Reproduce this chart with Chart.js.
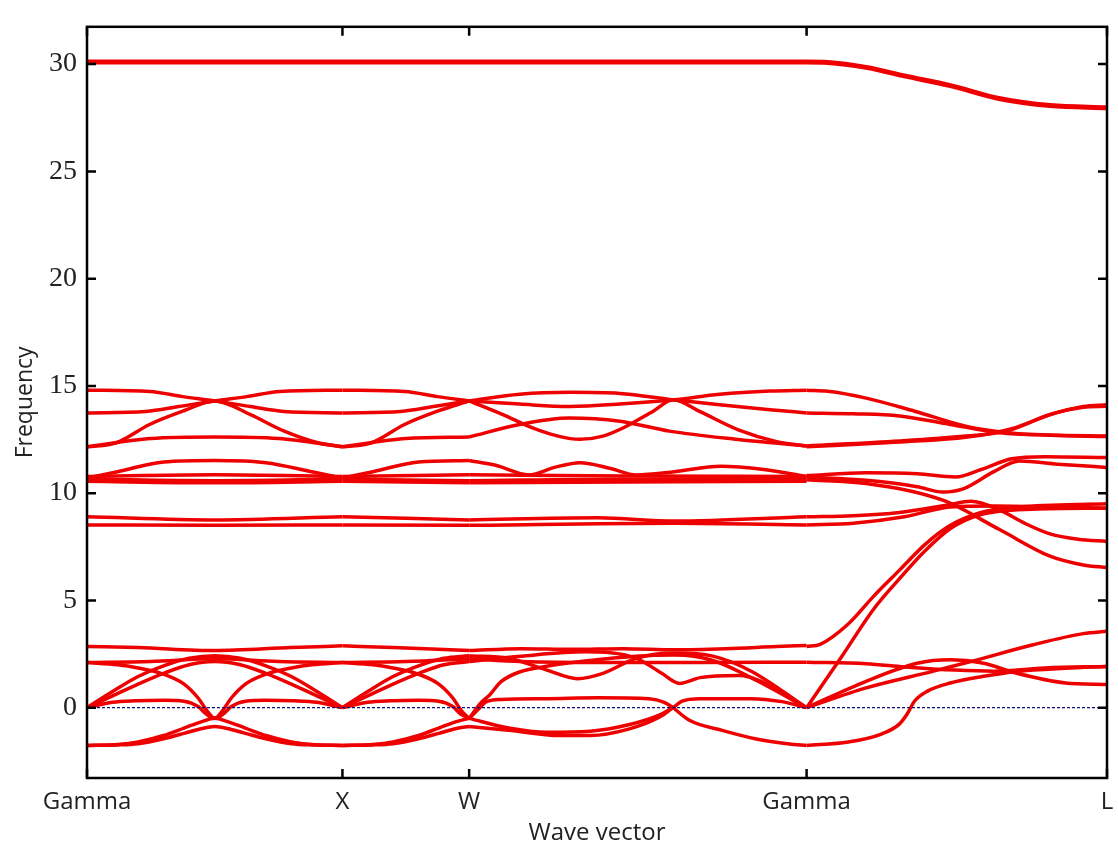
<!DOCTYPE html>
<html>
<head>
<meta charset="utf-8">
<script src="https://cdn.jsdelivr.net/npm/chart.js@4.4.0/dist/chart.umd.min.js"></script>
<style>
html, body { margin: 0; padding: 0; background: #fff; }
</style>
</head>
<body>
<canvas id="bands" width="1118" height="852"></canvas>
<script>
// high-symmetry points along the path
var kTicks = [0, 1, 1.496, 2.817, 3.993];
var kLabels = ['Gamma', 'X', 'W', 'Gamma', 'L'];
var yTicks = [0, 5, 10, 15, 20, 25, 30];

// [k, frequency] pairs
var topBand = [[0,30.1],[1.496,30.1],[2.817,30.1],[2.9,30.08],[3.05,29.85],[3.2,29.45],[3.38,29.0],[3.57,28.4],[3.77,28.07],[3.993,27.97]];

// Gamma - X
var gxH1 = [[0,14.8],[0.245,14.74],[0.375,14.5],[0.5,14.3],[0.64,14.04],[0.77,13.81],[1,13.74]];
var gxH2 = [[0,13.74],[0.23,13.81],[0.36,14.04],[0.5,14.3],[0.625,14.5],[0.755,14.74],[1,14.8]];
var gxH3 = [[0,12.16],[0.115,12.35],[0.245,13.2],[0.375,13.82],[0.5,14.3],[0.64,13.66],[0.77,12.9],[0.9,12.36],[1,12.16]];
var gxH4 = [[0,12.16],[0.25,12.55],[0.5,12.62],[0.75,12.55],[1,12.16]];
var gxM1 = [[0,10.7],[0.12,11.0],[0.3,11.45],[0.5,11.52],[0.7,11.42],[0.88,11.0],[1,10.7]];
var gxM2 = [[0,10.78],[0.5,10.86],[1,10.78]];
var gxM3 = [[0,10.65],[0.5,10.58],[1,10.65]];
var gxM4 = [[0,10.55],[0.5,10.48],[1,10.55]];
var gxL1 = [[0,8.9],[0.5,8.75],[1,8.9]];
var gxL2 = [[0,8.52],[0.5,8.5],[1,8.52]];
var gxA = [[0,2.85],[0.2,2.8],[0.5,2.66],[0.8,2.8],[1,2.88]];
var gxB = [[0,2.1],[0.25,2.15],[0.5,2.28],[0.75,2.15],[1,2.1]];
var gxAc1 = [[0,0],[0.1,0.75],[0.2,1.45],[0.3,1.95],[0.4,2.3],[0.5,2.42],[0.6,2.3],[0.7,1.95],[0.8,1.45],[0.9,0.75],[1,0]];
var gxAc2 = [[0,0],[0.1,0.55],[0.2,1.1],[0.3,1.6],[0.4,2.0],[0.5,2.15],[0.6,2.0],[0.7,1.6],[0.8,1.1],[0.9,0.55],[1,0]];
var gxD = [[0,2.1],[0.12,2.0],[0.2,1.85],[0.29,1.6],[0.38,1.1],[0.435,0.45],[0.47,-0.15],[0.5,-0.5],[0.53,-0.15],[0.565,0.45],[0.62,1.1],[0.71,1.6],[0.8,1.85],[0.88,2.0],[1,2.1]];
var gxE = [[0,0],[0.1,0.25],[0.19,0.32],[0.3,0.35],[0.38,0.3],[0.435,0.05],[0.467,-0.3],[0.5,-0.5],[0.533,-0.3],[0.565,0.05],[0.62,0.3],[0.7,0.35],[0.81,0.32],[0.9,0.25],[1,0]];
var gxF1 = [[0,-1.76],[0.12,-1.72],[0.2,-1.6],[0.3,-1.3],[0.38,-0.95],[0.45,-0.65],[0.5,-0.5],[0.55,-0.65],[0.62,-0.95],[0.7,-1.3],[0.8,-1.6],[0.88,-1.72],[1,-1.76]];
var gxF2 = [[0,-1.76],[0.12,-1.74],[0.2,-1.68],[0.3,-1.45],[0.38,-1.2],[0.45,-0.97],[0.5,-0.88],[0.55,-0.97],[0.62,-1.2],[0.7,-1.45],[0.8,-1.68],[0.88,-1.74],[1,-1.76]];

// X - W
var xwH1 = [[1,13.74],[1.228,13.81],[1.357,14.04],[1.496,14.3]];
var xwH2 = [[1,14.8],[1.243,14.74],[1.372,14.5],[1.496,14.3]];
var xwH3 = [[1,12.16],[1.114,12.35],[1.243,13.2],[1.372,13.82],[1.496,14.3]];
var xwH4 = [[1,12.16],[1.248,12.55],[1.496,12.62]];
var xwM1 = [[1,10.7],[1.119,11.0],[1.298,11.45],[1.496,11.52]];
var xwM2 = [[1,10.78],[1.496,10.86]];
var xwM3 = [[1,10.65],[1.496,10.58]];
var xwM4 = [[1,10.55],[1.496,10.48]];
var xwL1 = [[1,8.9],[1.496,8.75]];
var xwL2 = [[1,8.52],[1.496,8.5]];
var xwA = [[1,2.88],[1.2,2.8],[1.496,2.66]];
var xwB = [[1,2.1],[1.25,2.15],[1.496,2.28]];
var xwAc1 = [[1,0],[1.099,0.75],[1.198,1.45],[1.298,1.95],[1.397,2.3],[1.496,2.42]];
var xwAc2 = [[1,0],[1.099,0.55],[1.198,1.1],[1.298,1.6],[1.397,2.0],[1.496,2.15]];
var xwD = [[1,2.1],[1.119,2.0],[1.198,1.85],[1.288,1.6],[1.377,1.1],[1.432,0.45],[1.466,-0.15],[1.496,-0.5]];
var xwE = [[1,0],[1.099,0.25],[1.188,0.32],[1.298,0.35],[1.377,0.3],[1.432,0.05],[1.463,-0.3],[1.496,-0.5]];
var xwF1 = [[1,-1.76],[1.119,-1.72],[1.198,-1.6],[1.298,-1.3],[1.377,-0.95],[1.446,-0.65],[1.496,-0.5]];
var xwF2 = [[1,-1.76],[1.119,-1.74],[1.198,-1.68],[1.298,-1.45],[1.377,-1.2],[1.446,-0.97],[1.496,-0.88]];

// W - Gamma
var wgH1 = [[1.496,14.3],[1.694,14.61],[1.89,14.7],[2.086,14.65],[2.295,14.35],[2.477,14.12],[2.673,13.89],[2.817,13.74]];
var wgH2 = [[1.496,14.3],[1.694,14.15],[1.89,14.04],[2.086,14.15],[2.295,14.35],[2.477,14.61],[2.673,14.76],[2.817,14.8]];
var wgH3 = [[1.496,14.3],[1.628,13.66],[1.76,12.97],[1.93,12.51],[2.02,12.66],[2.1,13.05],[2.215,13.81],[2.295,14.35],[2.4,13.8],[2.55,12.95],[2.7,12.4],[2.817,12.2]];
var wgH4 = [[1.496,12.62],[1.694,13.2],[1.89,13.5],[2.086,13.35],[2.28,12.89],[2.54,12.51],[2.817,12.2]];
var wgM1 = [[1.496,11.52],[1.6,11.3],[1.73,10.85],[1.83,11.2],[1.93,11.42],[2.05,11.15],[2.15,10.85],[2.3,11.0],[2.48,11.25],[2.65,11.1],[2.817,10.78]];
var wgM2 = [[1.496,10.86],[2.1,10.8],[2.817,10.78]];
var wgM3 = [[1.496,10.58],[2.1,10.65],[2.817,10.65]];
var wgM4 = [[1.496,10.48],[2.1,10.52],[2.817,10.55]];
var wgL1 = [[1.496,8.75],[2.0,8.85],[2.3,8.7],[2.817,8.9]];
var wgL2 = [[1.496,8.5],[2.3,8.6],[2.817,8.52]];
var wgA = [[1.496,2.66],[1.7,2.75],[1.9,2.72],[2.1,2.75],[2.3,2.7],[2.5,2.75],[2.7,2.85],[2.817,2.9]];
var wgB = [[1.496,2.28],[1.7,2.15],[2.0,2.1],[2.4,2.1],[2.817,2.12]];
var wgD = [[1.496,-0.5],[1.54,0.2],[1.577,0.6],[1.62,1.2],[1.69,1.65],[1.81,1.95],[1.97,2.2],[2.15,2.4],[2.3,2.45],[2.45,2.2],[2.6,1.4],[2.817,0]];
var wgAc1 = [[1.496,2.42],[1.65,2.3],[1.8,1.75],[1.92,1.35],[2.02,1.6],[2.15,2.3],[2.3,2.55],[2.45,2.4],[2.6,1.7],[2.817,0]];
var wgAc2 = [[1.496,2.15],[1.7,2.4],[1.95,2.6],[2.15,2.3],[2.25,1.6],[2.32,1.13],[2.4,1.4],[2.55,1.5],[2.817,0]];
var wgE = [[1.496,-0.5],[1.53,-0.1],[1.56,0.25],[1.62,0.38],[1.8,0.42],[2.0,0.46],[2.2,0.42],[2.26,0.25],[2.294,0]];
var wgF1 = [[1.496,-0.5],[1.65,-0.95],[1.8,-1.15],[1.97,-1.1],[2.12,-0.8],[2.24,-0.35],[2.294,0]];
var wgF2 = [[1.496,-0.88],[1.65,-1.05],[1.85,-1.3],[1.97,-1.3],[2.12,-1.0],[2.24,-0.45],[2.294,0]];
var wgG1 = [[2.294,0],[2.36,-0.6],[2.49,-1.07],[2.62,-1.46],[2.75,-1.69],[2.817,-1.76]];
var wgG2 = [[2.294,0],[2.33,0.3],[2.4,0.42],[2.6,0.42],[2.72,0.28],[2.817,0]];

// Gamma - L
var glH1 = [[2.817,14.8],[2.9,14.75],[3.05,14.43],[3.24,13.82],[3.44,13.12],[3.6,12.82],[3.77,12.71],[3.993,12.66]];
var glH2 = [[2.817,13.74],[3.0,13.7],[3.18,13.6],[3.38,13.2],[3.574,12.82],[3.77,12.7],[3.993,12.64]];
var glH3 = [[2.817,12.2],[3.18,12.43],[3.44,12.66],[3.6,12.89],[3.77,13.66],[3.9,14.04],[3.993,14.12]];
var glH4 = [[2.817,12.16],[3.2,12.4],[3.44,12.6],[3.62,13.0],[3.78,13.7],[3.9,14.0],[3.993,14.05]];
var glM1 = [[2.817,10.82],[3.05,10.95],[3.25,10.9],[3.4,10.75],[3.5,11.1],[3.62,11.6],[3.75,11.7],[3.993,11.66]];
var glM2 = [[2.817,10.75],[3.05,10.6],[3.25,10.3],[3.35,10.05],[3.43,10.2],[3.55,11.0],[3.65,11.5],[3.8,11.35],[3.993,11.2]];
var glM3 = [[2.817,10.62],[3.05,10.45],[3.35,9.67],[3.574,8.29],[3.77,7.06],[3.9,6.65],[3.993,6.53]];
var glL1 = [[2.817,8.9],[3.0,8.95],[3.18,9.1],[3.37,9.45],[3.46,9.62],[3.574,9.21],[3.67,8.6],[3.77,8.1],[3.88,7.85],[3.993,7.75]];
var glL2 = [[2.817,8.52],[3.0,8.6],[3.2,8.9],[3.38,9.35],[3.55,9.4],[3.8,9.35],[3.993,9.3]];
var glS1 = [[2.817,2.85],[2.87,2.95],[2.98,3.9],[3.08,5.2],[3.18,6.4],[3.28,7.6],[3.38,8.5],[3.5,9.1],[3.65,9.35],[3.993,9.5]];
var glS2 = [[2.817,0],[2.95,2.3],[3.08,4.6],[3.18,6.0],[3.28,7.3],[3.38,8.35],[3.5,9.0],[3.7,9.25],[3.993,9.3]];
var glB = [[2.817,2.12],[3.05,2.05],[3.2,1.9],[3.4,1.75],[3.55,1.7],[3.75,1.85],[3.993,1.92]];
var glAc1 = [[2.817,0],[3.05,0.92],[3.31,1.69],[3.46,2.15],[3.7,2.92],[3.9,3.45],[3.993,3.56]];
var glAc2 = [[2.817,0],[3.05,1.23],[3.25,2.07],[3.38,2.23],[3.51,2.07],[3.64,1.6],[3.83,1.15],[3.993,1.08]];
var glN = [[2.817,-1.76],[2.98,-1.6],[3.11,-1.23],[3.18,-0.77],[3.21,-0.31],[3.24,0.31],[3.29,0.77],[3.38,1.15],[3.51,1.46],[3.64,1.69],[3.83,1.84],[3.993,1.92]];

var zeroLine = [[0,0],[3.993,0]];

var bandPieces = [
    gxH1, gxH2, gxH3, gxH4, gxM1, gxM2, gxM3, gxM4, gxL1, gxL2, gxA, gxB, gxAc1, gxAc2, gxD, gxE, gxF1, gxF2,
    xwH1, xwH2, xwH3, xwH4, xwM1, xwM2, xwM3, xwM4, xwL1, xwL2, xwA, xwB, xwAc1, xwAc2, xwD, xwE, xwF1, xwF2,
    wgH1, wgH2, wgH3, wgH4, wgM1, wgM2, wgM3, wgM4, wgL1, wgL2, wgA, wgB, wgD, wgAc1, wgAc2, wgE, wgF1, wgF2, wgG1, wgG2,
    glH1, glH2, glH3, glH4, glM1, glM2, glM3, glL1, glL2, glS1, glS2, glB, glAc1, glAc2, glN
];

function toXY(pts) {
    return pts.map(function(p) { return { x: p[0], y: p[1] }; });
}

var datasets = [{
    data: toXY(zeroLine),
    showLine: true,
    borderColor: '#10107a',
    borderWidth: 1.3,
    borderDash: [3, 2],
    pointRadius: 0,
    order: 0
}, {
    data: toXY(topBand),
    showLine: true,
    borderColor: 'rgb(238,0,0)',
    borderWidth: 5,
    pointRadius: 0,
    cubicInterpolationMode: 'monotone',
    order: 1
}];

bandPieces.forEach(function(piece) {
    datasets.push({
        data: toXY(piece),
        showLine: true,
        borderColor: 'rgb(238,0,0)',
        borderWidth: 3.5,
        pointRadius: 0,
        cubicInterpolationMode: 'monotone',
        order: 1
    });
});

// frame box and inward tick marks, placed with the chart's own scales
var framePlugin = {
    id: 'frame',
    afterDatasetsDraw: function(chart) {
        var ctx = chart.ctx;
        var a = chart.chartArea;
        var sx = chart.scales.x, sy = chart.scales.y;
        ctx.save();
        ctx.strokeStyle = '#000';
        ctx.lineWidth = 2.5;
        ctx.strokeRect(a.left, a.top, a.right - a.left, a.bottom - a.top);
        ctx.beginPath();
        yTicks.forEach(function(v) {
            var y = sy.getPixelForValue(v);
            ctx.moveTo(a.left, y); ctx.lineTo(a.left + 9, y);
            ctx.moveTo(a.right, y); ctx.lineTo(a.right - 9, y);
        });
        kTicks.forEach(function(v) {
            var x = sx.getPixelForValue(v);
            ctx.moveTo(x, a.top); ctx.lineTo(x, a.top + 9);
            ctx.moveTo(x, a.bottom); ctx.lineTo(x, a.bottom - 9);
        });
        ctx.stroke();
        ctx.restore();
    }
};

new Chart(document.getElementById('bands'), {
    type: 'scatter',
    data: { datasets: datasets },
    options: {
        responsive: false,
        animation: false,
        layout: { padding: { top: 17, right: 11, left: 0, bottom: 0 } },
        plugins: {
            legend: { display: false },
            tooltip: { enabled: false }
        },
        scales: {
            x: {
                type: 'linear',
                min: 0,
                max: 3.993,
                afterBuildTicks: function(scale) {
                    scale.ticks = kTicks.map(function(v) { return { value: v }; });
                },
                afterFit: function(scale) {
                    scale.height = 74;
                    scale.paddingLeft = 0;
                    scale.paddingRight = 0;
                },
                grid: { display: false, drawTicks: false },
                border: { display: false },
                ticks: {
                    autoSkip: false,
                    maxRotation: 0,
                    padding: 10,
                    color: '#222',
                    font: { family: 'Open Sans', size: 24 },
                    callback: function(value, index) { return kLabels[index]; }
                },
                title: {
                    display: true,
                    text: 'Wave vector',
                    color: '#222',
                    font: { family: 'Open Sans', size: 24 },
                    padding: { top: 0, bottom: 4 }
                }
            },
            y: {
                min: -3.28,
                max: 31.74,
                afterBuildTicks: function(scale) {
                    scale.ticks = yTicks.map(function(v) { return { value: v }; });
                },
                afterFit: function(scale) { scale.width = 87; },
                grid: { display: false, drawTicks: false },
                border: { display: false },
                ticks: {
                    padding: 10,
                    color: '#222',
                    font: { family: 'Liberation Serif', size: 28 }
                },
                title: {
                    display: true,
                    text: 'Frequency',
                    color: '#222',
                    font: { family: 'Open Sans', size: 23 },
                    padding: { top: 12, bottom: 0 }
                }
            }
        }
    },
    plugins: [framePlugin]
});
</script>
</body>
</html>
